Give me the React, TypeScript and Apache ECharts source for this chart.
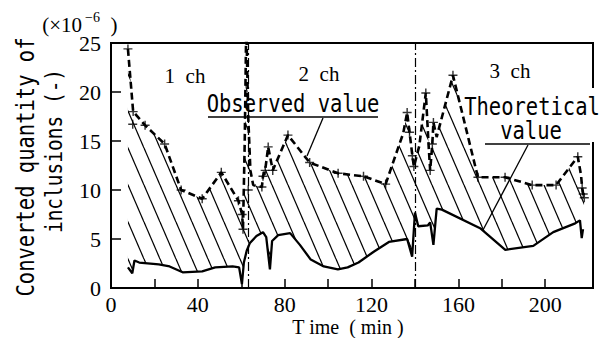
import React, { useEffect, useRef } from "react";
import * as echarts from "echarts";

// ---- axis / tick data ----
const xLabelValues = [0, 40, 80, 120, 160, 200];
const xTickValues = [20, 40, 60, 80, 100, 120, 140, 160, 180, 200];
const yTickValues = [5, 10, 15, 20];
const yLabelValues = [0, 5, 10, 15, 20, 25];
const channelLabels = ["1  ch", "2  ch", "3  ch"];
const channelBoundaries = [63, 140.3];

// ---- observed value (dashed line) ----
const observedTime = [7.8, 10.2, 15.7, 24.7, 32.3, 42, 50.8, 58.7, 60.4, 60.8, 61.6, 62.3, 63.2, 64.2, 65.5, 69.5, 70, 71, 72.4, 74.5, 81.5, 91.5, 104.6, 116.3, 126.5, 131, 134.6, 136.4, 137.5, 138.8, 139.5, 142, 145, 146.3, 147, 148, 148.5, 150, 157.5, 169, 181.5, 194, 205, 215, 216.5, 217, 217.5, 218];
const observedValue = [24.4, 18.0, 16.6, 14.7, 10.0, 9.1, 11.8, 8.9, 7.5, 6.0, 15, 27, 17.5, 12.0, 10.5, 10.3, 11.4, 12.0, 14.4, 12.0, 15.6, 12.8, 11.7, 11.4, 10.6, 13.5, 15.8, 17.9, 15.9, 13.5, 12.4, 14.5, 19.9, 14.5, 12.0, 14.7, 16.9, 15.4, 21.7, 11.3, 11.3, 10.5, 10.5, 13.4, 11.5, 10.2, 9.6, 9.2];

// ---- observed measurement markers (+) ----
const markerTime = [7.8, 10.2, 10, 15.7, 24.7, 32.3, 42, 50.8, 58.7, 60.4, 60.8, 63.2, 69.5, 70, 71, 72.4, 74.5, 81.5, 91.5, 104.6, 116.3, 126.5, 136.4, 137.5, 138.8, 139.5, 145, 147, 148, 148.5, 157.5, 169, 181.5, 194, 205, 215, 217, 217.5, 218];
const markerValue = [24.4, 18.0, 16.7, 16.6, 14.7, 10.0, 9.1, 11.8, 8.9, 7.5, 6.0, 10.0, 10.3, 11.4, 12.0, 14.4, 12.0, 15.6, 12.8, 11.7, 11.4, 10.6, 17.9, 15.9, 13.5, 12.4, 19.9, 12.0, 14.7, 16.9, 21.7, 11.3, 11.3, 10.5, 10.5, 13.4, 10.2, 9.6, 9.2];

// ---- theoretical value (solid line) ----
const theoreticalTime = [7.8, 9.8, 10.8, 13, 22, 27, 33, 42, 48, 56, 59, 60.3, 61.2, 62.5, 64, 67, 70, 71.5, 73.2, 74.2, 77, 82.5, 87, 92, 98, 104.5, 109, 114, 121, 128, 136.4, 138.7, 140, 141.5, 146, 147, 148.5, 150, 152.4, 170, 181.6, 194.5, 203.7, 213.8, 216, 216.8, 217.4];
const theoreticalValue = [2.1, 1.5, 2.8, 2.6, 2.4, 2.2, 1.6, 1.7, 2.1, 2.2, 2.1, 0.4, 2.6, 3.8, 4.6, 5.3, 5.7, 5.2, 1.9, 4.8, 5.4, 5.6, 4.4, 2.9, 2.2, 1.9, 2.1, 2.6, 3.7, 4.7, 5.0, 3.2, 7.7, 6.3, 6.4, 6.7, 4.4, 8.1, 8.0, 6.1, 3.9, 4.3, 5.7, 6.6, 6.9, 5.1, 6.0];

const X_MAX = 222;
const Y_MAX = 25;

function makeHatch() {
  const w = 16;
  const h = 37;
  const c = document.createElement("canvas");
  c.width = w;
  c.height = h;
  const ctx = c.getContext("2d")!;
  ctx.strokeStyle = "#000";
  ctx.lineWidth = 1.25;
  for (const dx of [-w, 0, w]) {
    ctx.beginPath();
    ctx.moveTo(dx, 0);
    ctx.lineTo(dx + w, h);
    ctx.stroke();
  }
  return { image: c.toDataURL(), repeat: "repeat", imageWidth: w, imageHeight: h };
}

const MONO = "DejaVu Sans Mono";
const SERIF = "Liberation Serif";
const SERIF_Q = "'Liberation Serif'";

export default function App() {
  const ref = useRef<HTMLDivElement>(null);
  useEffect(() => {
    const chart = echarts.init(ref.current!, null, { renderer: "svg" });
    const hatch = makeHatch();
    const observed = observedTime.map((t, i) => [t, observedValue[i]]);
    const theoretical = theoreticalTime.map((t, i) => [t, theoreticalValue[i]]);
    const markers = markerTime.map((t, i) => [t, markerValue[i]]);

    const monoText = (text: string, x: number, y: number, extra: any = {}) => ({
      type: "text",
      x,
      y,
      scaleY: 1.2,
      z: 100,
      ...extra,
      style: {
        text,
        font: `20.5px '${MONO}'`,
        fill: "#000",
        textAlign: "center",
        textVerticalAlign: "middle",
        ...(extra.style || {}),
      },
    });
    const serifText = (text: string, x: number, y: number, size: number, align = "center") => ({
      type: "text",
      x,
      y,
      z: 100,
      style: {
        text,
        font: `${size}px '${SERIF}'`,
        fill: "#000",
        textAlign: align,
        textVerticalAlign: "middle",
      },
    });
    const seg = (x1: number, y1: number, x2: number, y2: number, w = 1.3) => ({
      type: "line",
      z: 100,
      shape: { x1, y1, x2, y2 },
      style: { stroke: "#000", lineWidth: w },
    });

    const option: any = {
      animation: false,
      backgroundColor: "#fff",
      textStyle: { fontFamily: SERIF_Q, color: "#000" },
      grid: {
        left: 111,
        right: 21,
        top: 43,
        bottom: 50,
        show: true,
        borderColor: "#000",
        borderWidth: 2,
        backgroundColor: "transparent",
      },
      xAxis: {
        type: "value",
        min: 0,
        max: X_MAX,
        interval: 20,
        splitLine: { show: false },
        axisLine: { lineStyle: { color: "#000", width: 2 } },
        axisTick: { inside: true, length: 9, customValues: xTickValues, lineStyle: { color: "#000", width: 1.5 } },
        axisLabel: {
          color: "#000",
          fontFamily: SERIF_Q,
          fontSize: 22,
          margin: 5,
          showMaxLabel: false,
          formatter: (v: number) => (xLabelValues.includes(v) ? String(v) : ""),
        },
      },
      yAxis: {
        type: "value",
        min: 0,
        max: Y_MAX,
        interval: 5,
        splitLine: { show: false },
        axisLine: { lineStyle: { color: "#000", width: 2 } },
        axisTick: { inside: true, length: 10, customValues: yTickValues, lineStyle: { color: "#000", width: 1.5 } },
        axisLabel: {
          color: "#000",
          fontFamily: SERIF_Q,
          fontSize: 22,
          margin: 10,
          formatter: (v: number) => (yLabelValues.includes(v) ? String(v) : ""),
        },
      },
      series: [
        {
          type: "custom",
          data: [[0, 0]],
          encode: { x: 0, y: 1 },
          clip: true,
          z: 1,
          silent: true,
          renderItem: (params: any, api: any) => {
            const top = observed.map((p) => api.coord([p[0], Math.min(p[1], Y_MAX)]));
            const bottom = theoretical
              .slice()
              .reverse()
              .map((p) => api.coord([p[0], p[1]]));
            return {
              type: "polygon",
              shape: { points: top.concat(bottom) },
              style: { fill: hatch, stroke: null },
            };
          },
        },
        {
          type: "line",
          data: theoretical,
          showSymbol: false,
          symbol: "none",
          z: 3,
          lineStyle: { color: "#000", width: 2.3 },
        },
        {
          type: "line",
          data: observed,
          showSymbol: false,
          symbol: "none",
          z: 4,
          lineStyle: { color: "#000", width: 2.6, type: [7, 4] },
          markLine: {
            silent: true,
            symbol: ["none", "none"],
            label: { show: false },
            lineStyle: { color: "#000", width: 1.2, type: [9, 3, 2, 3] },
            data: channelBoundaries.map((x) => ({ xAxis: x })),
          },
        },
        {
          type: "scatter",
          data: markers,
          symbol: "path://M4.2,0H5.8V10H4.2ZM0,4.2H10V5.8H0Z",
          symbolSize: 9,
          z: 5,
          itemStyle: { color: "#000" },
        },
      ],
      graphic: [
        // y-axis unit
        serifText("(×10", 82, 25, 21, "right"),
        { type: "text", x: 85, y: 17, z: 100, style: { text: "−6", font: `14px '${SERIF}'`, fill: "#000", textAlign: "left", textVerticalAlign: "middle" } },
        serifText(")", 114, 25, 21, "center"),
        // y-axis name (two lines, rotated)
        monoText("Converted quantity of", 25, 167, { rotation: Math.PI / 2 }),
        monoText("inclusions (-)", 54, 151, { rotation: Math.PI / 2, style: { font: `19.5px '${MONO}'` } }),
        // channel labels
        serifText(channelLabels[0], 185, 76, 21),
        serifText(channelLabels[1], 319, 74, 21),
        serifText(channelLabels[2], 510, 71, 21),
        // observed value annotation
        monoText("Observed value", 293, 103),
        seg(208, 117, 378, 117),
        seg(323, 118, 307, 156),
        // theoretical value annotation
        { type: "rect", z: 90, shape: { x: 586, y: 88, width: 12, height: 54 }, style: { fill: "#fff" } },
        monoText("Theoretical", 532, 106),
        monoText("value", 531, 130),
        seg(485, 144, 590, 144),
        seg(528, 145, 483, 230),
        // x-axis name
        serifText("T ime  ( min )", 348, 327, 20),
      ],
    };
    chart.setOption(option);
    return () => chart.dispose();
  }, []);
  return <div ref={ref} style={{ position: "fixed", left: 0, top: 0, width: 614, height: 338 }} />;
}
